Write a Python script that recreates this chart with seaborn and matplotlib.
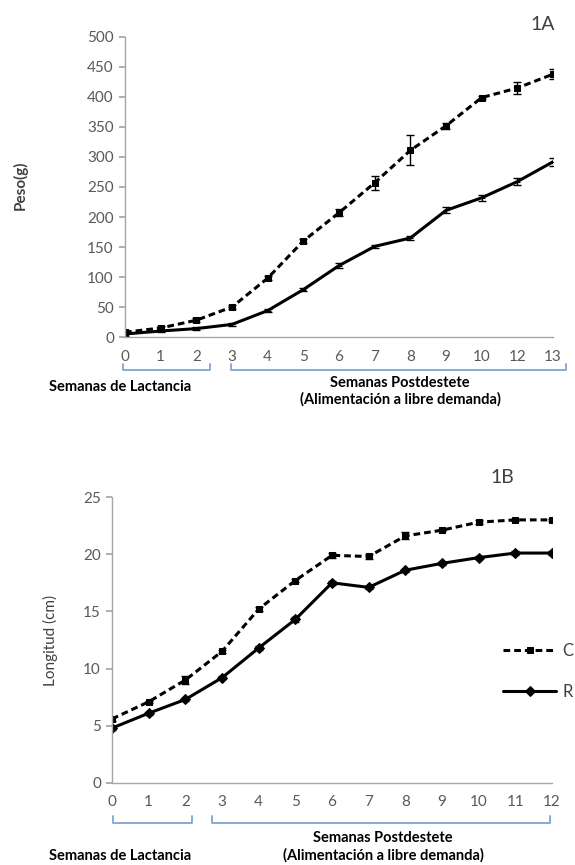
import numpy as np
import seaborn as sns
import matplotlib.pyplot as plt

sns.set_theme(style="white")
plt.rcParams['font.family'] = ['Lato', 'DejaVu Sans']

# Panel 1A: body weight (g)
weeks_a = ["0", "1", "2", "3", "4", "5", "6", "7", "8", "9", "10", "12", "13"]
peso_c = [8, 15, 28, 50, 98, 160, 207, 257, 311, 352, 399, 415, 438]
peso_c_err = [3, 3, 3, 3, 3, 4, 6, 12, 25, 5, 3, 10, 8]
peso_r = [5, 10, 14, 21, 44, 79, 119, 151, 165, 211, 232, 259, 292]
peso_r_err = [3, 2, 2, 2, 3, 3, 4, 3, 3, 5, 5, 6, 7]

# Panel 1B: body length (cm)
weeks_b = ["0", "1", "2", "3", "4", "5", "6", "7", "8", "9", "10", "11", "12"]
long_c = [5.6, 7.1, 9.0, 11.5, 15.2, 17.7, 19.9, 19.8, 21.6, 22.1, 22.8, 23.0, 23.0]
long_c_err = [0.15, 0.1, 0.35, 0.15, 0.15, 0.15, 0.2, 0.2, 0.3, 0.1, 0.15, 0.1, 0.1]
long_r = [4.8, 6.1, 7.3, 9.2, 11.8, 14.3, 17.5, 17.1, 18.6, 19.2, 19.7, 20.1, 20.1]
long_r_err = [0.15, 0.15, 0.15, 0.15, 0.15, 0.2, 0.2, 0.15, 0.15, 0.15, 0.15, 0.2, 0.15]

W, H = 575, 865
fig = plt.figure(figsize=(W / 100, H / 100), dpi=100)

def px_axes(x0, y_top, x1, y_bot):
    return fig.add_axes([x0 / W, 1 - y_bot / H, (x1 - x0) / W, (y_bot - y_top) / H])

ax_a = px_axes(125, 37, 553, 337)
ax_b = px_axes(112, 497, 552, 783)

grey_txt = "#595959"
axis_col = "#A6A6A6"
brk_col = "#7EA6CF"
dash = (0, (2.2, 1.3))


def draw_panel(ax, labels, c, c_err, r, r_err, r_marker, r_msize):
    pos = np.arange(len(labels))
    sns.lineplot(x=pos, y=c, ax=ax, color="black", lw=2.2, marker="s", markersize=4,
                 markeredgecolor="black", label="C")
    ax.lines[-1].set_linestyle(dash)
    sns.lineplot(x=pos, y=r, ax=ax, color="black", lw=2.2, marker=r_marker,
                 markersize=r_msize, markeredgecolor="black", label="R")
    ax.errorbar(pos, c, yerr=c_err, fmt="none", ecolor="black", elinewidth=1, capsize=3, capthick=1)
    ax.errorbar(pos, r, yerr=r_err, fmt="none", ecolor="black", elinewidth=1, capsize=3, capthick=1)
    ax.set_xticks(pos)
    ax.set_xticklabels(labels)
    ax.set_xlim(0, len(labels) - 1)
    for s in ["top", "right"]:
        ax.spines[s].set_visible(False)
    for s in ["left", "bottom"]:
        ax.spines[s].set_color(axis_col)
        ax.spines[s].set_linewidth(1)
    ax.tick_params(axis="y", left=True, length=4, color=axis_col, labelsize=11,
                   labelcolor=grey_txt, pad=4)
    ax.tick_params(axis="x", bottom=False, labelsize=11, labelcolor=grey_txt, pad=3)
    ax.set_xlabel("")


def bracket(ax, x0, x1, y_line, y_top):
    tr = ax.get_xaxis_transform()
    ax.plot([x0, x0, x1, x1], [y_top, y_line, y_line, y_top], color=brk_col, lw=1.3,
            transform=tr, clip_on=False)


draw_panel(ax_a, weeks_a, peso_c, peso_c_err, peso_r, peso_r_err, "_", 5)
ax_a.set_ylim(0, 500)
ax_a.set_yticks(np.arange(0, 501, 50))
ax_a.legend_.remove()
bracket(ax_a, -0.06, 2.38, -0.11, -0.09)
bracket(ax_a, 2.97, 12.36, -0.11, -0.09)

draw_panel(ax_b, weeks_b, long_c, long_c_err, long_r, long_r_err, "D", 5)
ax_b.set_ylim(0, 25)
ax_b.set_yticks(np.arange(0, 26, 5))
bracket(ax_b, 0.03, 2.18, -0.14, -0.115)
bracket(ax_b, 2.73, 11.95, -0.14, -0.115)
leg = ax_b.legend(loc="upper left", bbox_to_anchor=(503 / W, 1 - 643 / H),
                  bbox_transform=fig.transFigure, frameon=False, borderpad=0,
                  borderaxespad=0, handlelength=3.2, handletextpad=0.35,
                  labelspacing=1.5, fontsize=12)
for t in leg.get_texts():
    t.set_color("#404040")

# titles, axis labels and period annotations
fig.text(543 / W, 1 - 25 / H, "1A", ha="center", va="center", fontsize=14, color="#404040")
fig.text(502 / W, 1 - 478 / H, "1B", ha="center", va="center", fontsize=14, color="#404040")
fig.text(20 / W, 1 - 185 / H, "Peso(g)", rotation=90, ha="center", va="center",
         fontsize=11, fontweight="bold", color="#404040")
fig.text(50 / W, 1 - 640 / H, "Longitud (cm)", rotation=90, ha="center", va="center",
         fontsize=11, color="#404040")

bold = dict(ha="center", va="center", fontsize=10.5, fontweight="bold", color="black")
fig.text(120 / W, 1 - 387 / H, "Semanas de Lactancia", **bold)
fig.text(400 / W, 1 - 383 / H, "Semanas Postdestete", **bold)
fig.text(400 / W, 1 - 399 / H, "(Alimentación a libre demanda)", **bold)
fig.text(120 / W, 1 - 856 / H, "Semanas de Lactancia", **bold)
fig.text(383 / W, 1 - 838 / H, "Semanas Postdestete", **bold)
fig.text(383 / W, 1 - 855 / H, "(Alimentación a libre demanda)", **bold)

fig.savefig("out.png", dpi=100)
